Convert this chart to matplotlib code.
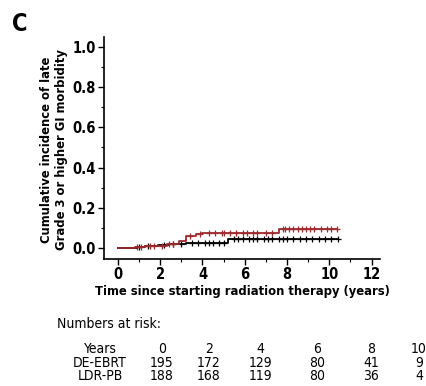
import numpy as np
import matplotlib
matplotlib.use("Agg")
import matplotlib.pyplot as plt
from matplotlib.ticker import MultipleLocator

# ---------------- data ----------------
# step curves: event times (years) and cumulative incidence after each step
RED_TIMES = [0.0, 0.8, 1.3, 2.3, 2.9, 3.2, 3.7, 4.0, 7.6]
RED_CUMINC = [0.0, 0.005, 0.011, 0.022, 0.035, 0.060, 0.067, 0.074, 0.093]
RED_END = 10.35
RED_CENSOR = [0.9, 1.1, 1.5, 1.7, 2.1, 2.4, 2.6, 3.4, 3.9, 4.3, 4.6, 4.9, 5.0,
              5.3, 5.6, 5.9, 6.1, 6.4, 6.6, 7.0, 7.3, 7.8, 7.9, 8.1, 8.3, 8.5,
              8.7, 8.9, 9.1, 9.3, 9.6, 9.9, 10.1, 10.35]

BLACK_TIMES = [0.0, 0.9, 1.3, 1.9, 2.4, 3.2, 5.2]
BLACK_CUMINC = [0.0, 0.005, 0.010, 0.015, 0.020, 0.027, 0.046]
BLACK_END = 10.4
BLACK_CENSOR = [1.0, 1.4, 2.2, 2.6, 3.0, 3.5, 3.8, 4.1, 4.3, 4.5, 4.8, 5.0,
                5.5, 5.7, 5.9, 6.2, 6.4, 6.6, 6.9, 7.1, 7.3, 7.6, 7.8, 8.0,
                8.3, 8.6, 8.9, 9.2, 9.5, 9.8, 10.1, 10.4]

RISK_YEARS = ["0", "2", "4", "6", "8", "10"]
RISK_GROUPS = ["DE-EBRT", "LDR-PB"]
RISK_DE_EBRT = [195, 172, 129, 80, 41, 9]
RISK_LDR_PB = [188, 168, 119, 80, 36, 4]

RED = "#9e2a2e"
W, H = 426, 386

plt.rcParams["font.family"] = ["DejaVu Sans"]
plt.rcParams["font.stretch"] = "condensed"


def step_value(times, vals, t):
    i = np.searchsorted(times, t, side="right") - 1
    return vals[i]


def draw_curve(ax, times, vals, end, censor, color):
    t = list(times) + [end]
    v = list(vals) + [vals[-1]]
    ax.step(t, v, where="post", color=color, lw=1.3)
    cy = [step_value(times, vals, c) for c in censor]
    ax.plot(censor, cy, ls="none", marker="+", ms=4, mew=0.9, color=color)


def main():
    fig = plt.figure(figsize=(W / 100, H / 100), dpi=100)
    ax = fig.add_axes([104 / W, 1 - 259 / H, 276 / W, 222 / H])

    draw_curve(ax, BLACK_TIMES, BLACK_CUMINC, BLACK_END, BLACK_CENSOR, "black")
    draw_curve(ax, RED_TIMES, RED_CUMINC, RED_END, RED_CENSOR, RED)

    ax.set_xlim(-0.66, 12.4)
    ax.set_ylim(-0.055, 1.05)
    ax.xaxis.set_major_locator(MultipleLocator(2))
    ax.xaxis.set_minor_locator(MultipleLocator(1))
    ax.yaxis.set_major_locator(MultipleLocator(0.2))
    ax.yaxis.set_minor_locator(MultipleLocator(0.1))
    ax.yaxis.set_major_formatter(lambda v, p: f"{v:.1f}")
    ax.spines["top"].set_visible(False)
    ax.spines["right"].set_visible(False)
    for s in ("left", "bottom"):
        ax.spines[s].set_linewidth(1.2)
    ax.tick_params(which="major", length=4, width=1, labelsize=10.5, pad=2)
    ax.tick_params(which="minor", length=2, width=0.8)
    for lab in ax.get_xticklabels() + ax.get_yticklabels():
        lab.set_fontweight("bold")

    ax.set_xlabel("Time since starting radiation therapy (years)",
                  fontsize=9.3, fontweight="bold", labelpad=2)
    fig.text(54 / W, 1 - 150 / H,
             "Cumulative incidence of late\nGrade 3 or higher GI morbidity",
             rotation=90, ha="center", va="center", fontsize=9.3,
             fontweight="bold", linespacing=1.25)
    fig.text(12 / W, 1 - 24 / H, "C", fontsize=17, fontweight="bold",
             va="center", ha="left")

    # numbers-at-risk table below the plot
    fig.text(57 / W, 1 - 324 / H, "Numbers at risk:", fontsize=10,
             va="center", ha="left")
    col_x = [162, 209, 260, 317, 371, 419]
    rows = [("Years", RISK_YEARS),
            (RISK_GROUPS[0], [str(n) for n in RISK_DE_EBRT]),
            (RISK_GROUPS[1], [str(n) for n in RISK_LDR_PB])]
    for r, (name, cells) in enumerate(rows):
        y = 1 - (349 + 13.7 * r) / H
        fig.text(100 / W, y, name, fontsize=10, ha="center", va="center")
        for x, c in zip(col_x, cells):
            fig.text(x / W, y, c, fontsize=10, ha="center", va="center")

    fig.savefig("out.png", dpi=100)
    plt.close(fig)


if __name__ == "__main__":
    main()
